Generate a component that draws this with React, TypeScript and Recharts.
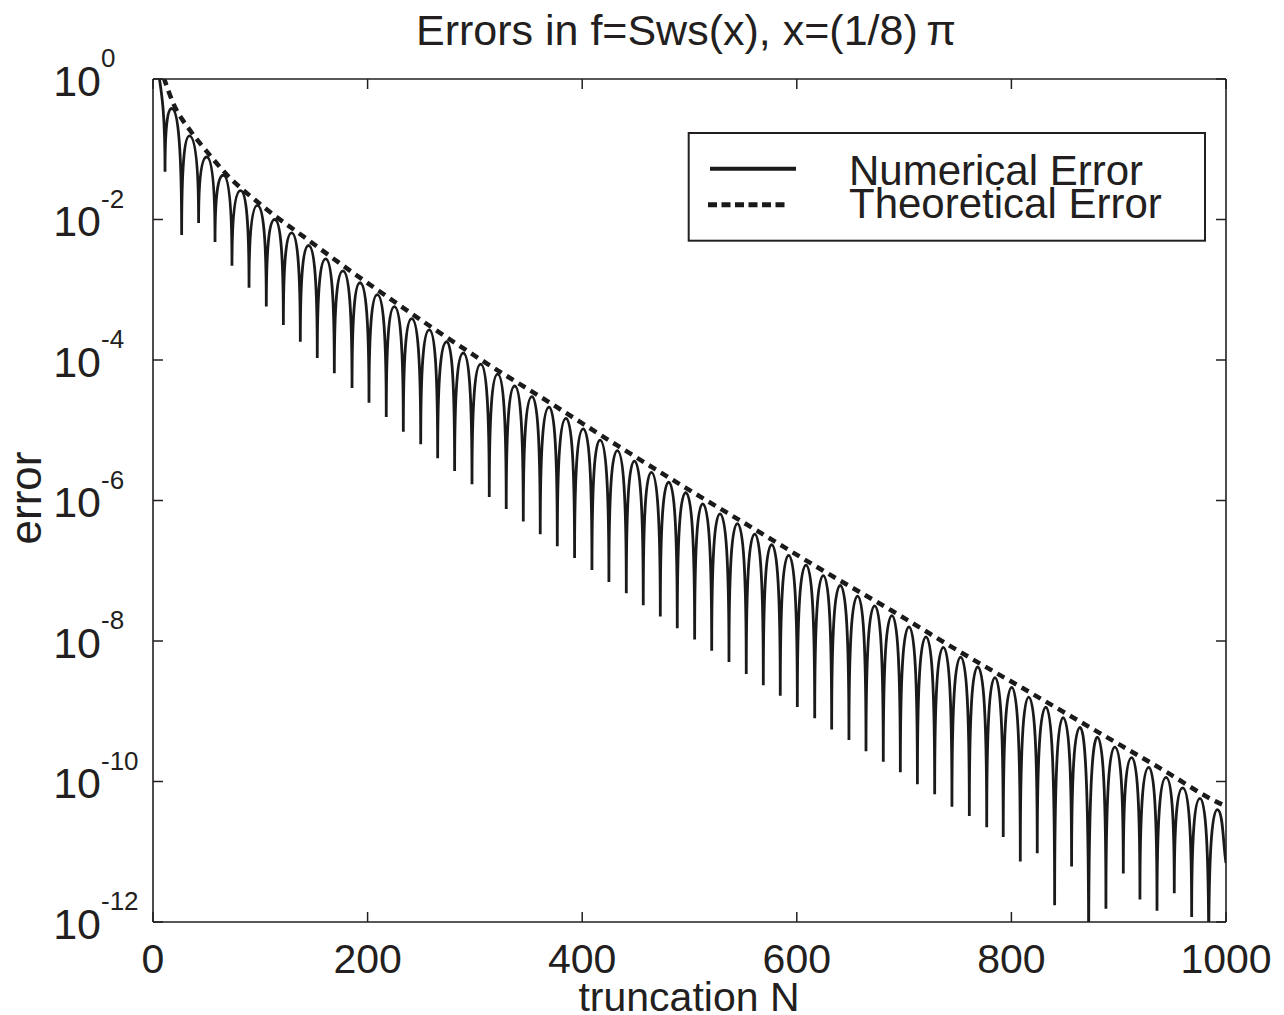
import React from 'react';
import { LineChart, Line, XAxis, YAxis, Legend } from 'recharts';

// ---- data (values as log10 exponents) ----
const dipN = [11.2, 26.7, 42.5, 57.8, 73.6, 89.5, 105.6, 121.5, 137.3, 153.1, 169.0, 185.5, 201.3, 217.4,
  233.3, 249.5, 265.3, 281.1, 297.3, 313.4, 329.2, 345.1, 360.9, 376.8, 392.9, 409.1, 424.9, 441.1, 456.9, 472.8, 488.6, 504.8,
  520.7, 536.8, 552.9, 568.8, 584.6, 600.5, 616.7, 632.5, 648.6, 664.5, 680.6, 696.5, 712.4, 728.5, 744.6,
  760.8, 777.0, 792.4, 808.3, 824.1, 840.3, 856.1, 872.0, 888.1, 904.3, 919.8, 935.7, 951.8, 968.0, 983.9];
const dipExp = [-1.32, -2.22, -2.05, -2.32, -2.66, -2.97, -3.24, -3.50, -3.74, -3.97, -4.19, -4.40, -4.61, -4.81,
  -5.02, -5.20, -5.40, -5.58, -5.77, -5.95, -6.12, -6.30, -6.48, -6.65, -6.82, -6.99, -7.16, -7.32, -7.49, -7.65, -7.82, -7.98,
  -8.14, -8.30, -8.47, -8.63, -8.78, -8.94, -9.10, -9.26, -9.41, -9.57, -9.72, -9.87, -10.04, -10.18, -10.36,
  -10.49, -10.65, -10.79, -11.14, -11.02, -11.76, -11.21, -12.5, -11.81, -11.31, -11.68, -11.84, -11.59, -11.93, -12.5];
const peakN = [17.4, 33.9, 50.0, 65.5, 81.6, 97.2, 113.4, 129.2, 145.0, 160.9, 177.0, 192.9, 209.0, 224.9, 241.1,
  257.5, 273.7, 289.2, 305.4, 321.2, 337.1, 353.2, 369.1, 384.9, 401.0, 416.6, 432.7, 448.6, 464.4, 480.6, 496.5,
  512.3, 528.4, 544.6, 560.8, 576.6, 592.4, 608.6, 624.7, 640.5, 656.7, 672.6, 688.7, 704.6, 720.4, 736.6,
  752.7, 768.6, 784.7, 800.3, 816.1, 832.2, 848.1, 864.0, 880.1, 896.3, 912.1, 928.0, 944.1, 959.6, 975.8, 991.9];
const peakExp = [-0.42, -0.81, -1.11, -1.37, -1.59, -1.80, -2.00, -2.19, -2.37, -2.56, -2.73, -2.90, -3.07, -3.24, -3.41,
  -3.57, -3.74, -3.90, -4.06, -4.20, -4.37, -4.52, -4.67, -4.83, -4.98, -5.14, -5.29, -5.44, -5.60, -5.74, -5.89,
  -6.05, -6.19, -6.33, -6.48, -6.63, -6.78, -6.92, -7.07, -7.21, -7.36, -7.50, -7.64, -7.80, -7.94, -8.09,
  -8.23, -8.37, -8.52, -8.66, -8.80, -8.94, -9.09, -9.23, -9.37, -9.51, -9.66, -9.80, -9.94, -10.09, -10.24, -10.40];
const numStart = { n: 2, e: 0.5 };
const numEnd = { n: 1000, e: -11.16 };

const theoN = [10, 19, 34.5, 50, 68.7, 99.7, 146.3, 177.4, 209, 241, 305, 369, 433, 496.5, 560.8, 624.7, 688.7, 752.7, 816, 880, 944, 991.3, 1000];
const theoExp = [0.02, -0.35, -0.73, -1.03, -1.36, -1.78, -2.31, -2.66, -3.0, -3.34, -3.99, -4.6, -5.22, -5.82, -6.41, -7.0, -7.57, -8.16, -8.72, -9.29, -9.86, -10.29, -10.35];

const xTicks = [0, 200, 400, 600, 800, 1000];
const yTickExps = [0, -2, -4, -6, -8, -10, -12];

const seriesNames = ['Numerical Error', 'Theoretical Error'];
const title = 'Errors in f=Sws(x), x=(1/8)\u2009\u03c0';
const xLabel = 'truncation N';
const yLabel = 'error';

// ---- tables built from the arrays ----
const numericalData: { n: number; v: number }[] = [{ n: numStart.n, v: Math.pow(10, numStart.e) }];
dipN.forEach((n, i) => {
  numericalData.push({ n, v: Math.pow(10, dipExp[i]) });
  numericalData.push({ n: peakN[i], v: Math.pow(10, peakExp[i]) });
});
numericalData.push({ n: numEnd.n, v: Math.pow(10, numEnd.e) });

const theoData = theoN.map((n, i) => ({ n, v: Math.pow(10, theoExp[i]) }));
const yTicks = yTickExps.map((e) => Math.pow(10, e));

const INK = '#231f20';
const FONT = '"Liberation Sans", Arial, Helvetica, sans-serif';

// curve: vertical tangent at local minima (cusps), horizontal at local maxima
function archCurve(context: any) {
  let pts: number[][] = [];
  return {
    areaStart() {},
    areaEnd() {},
    lineStart() { pts = []; },
    point(x: number, y: number) { pts.push([+x, +y]); },
    lineEnd() {
      const n = pts.length;
      if (!n) return;
      const kind = pts.map((p, i) => {
        if (i === 0 || i === n - 1) return 0;
        const yp = pts[i - 1][1];
        const yn = pts[i + 1][1];
        if (p[1] > yp && p[1] > yn) return -1;
        if (p[1] < yp && p[1] < yn) return 1;
        return 0;
      });
      context.moveTo(pts[0][0], pts[0][1]);
      const k = 2 / 3;
      for (let i = 1; i < n; i++) {
        const [x0, y0] = pts[i - 1];
        const [x1, y1] = pts[i];
        let c1x, c1y, c2x, c2y;
        const a = kind[i - 1];
        const b = kind[i];
        if (a === -1) { c1x = x0; c1y = y0 + k * (y1 - y0); }
        else if (a === 1) { c1x = x0 + k * (x1 - x0); c1y = y0; }
        else { c1x = x0 + (x1 - x0) / 3; c1y = y0 + (y1 - y0) / 3; }
        if (b === -1) { c2x = x1; c2y = y1 + k * (y0 - y1); }
        else if (b === 1) { c2x = x1 + k * (x0 - x1); c2y = y1; }
        else { c2x = x1 + (x0 - x1) / 3; c2y = y1 + (y0 - y1) / 3; }
        context.bezierCurveTo(c1x, c1y, c2x, c2y, x1, y1);
      }
    },
  };
}

const XTick = (props: any) => {
  const { x, payload } = props;
  return (
    <text x={x} y={972.5} textAnchor="middle" fontSize={41} fontFamily={FONT} fill={INK}>
      {payload.value}
    </text>
  );
};

const YTick = (props: any) => {
  const { y, payload } = props;
  const e = Math.round(Math.log10(payload.value));
  return (
    <g>
      <text x={101} y={y + 16.7} textAnchor="end" fontSize={43} fontFamily={FONT} fill={INK}>10</text>
      <text x={101} y={y - 11.7} textAnchor="start" fontSize={26} fontFamily={FONT} fill={INK}>{String(e)}</text>
    </g>
  );
};

const NoTick = () => <g />;

const LegendBox = () => (
  <svg width={520} height={112} style={{ display: 'block' }}>
    <rect x={1.7} y={2} width={516.3} height={107.7} fill="#fff" stroke={INK} strokeWidth={2} />
    <line x1={23} y1={37.7} x2={109} y2={37.7} stroke="#1a1a1a" strokeWidth={4} />
    <line x1={21} y1={73.7} x2={101} y2={73.7} stroke="#1a1a1a" strokeWidth={5} strokeDasharray="9 4.5" />
    <text x={162} y={54.3} fontSize={42} fontFamily={FONT} fill={INK}>{seriesNames[0]}</text>
    <text x={162} y={87} fontSize={42} fontFamily={FONT} fill={INK}>{seriesNames[1]}</text>
  </svg>
);

export default function App() {
  return (
    <div style={{ position: 'absolute', left: 0, top: 0, width: 1284, height: 1015, background: '#fff' }}>
      <LineChart width={1284} height={1015} margin={{ top: 78, right: 57, bottom: 92, left: 152 }}>
        <XAxis xAxisId="b" dataKey="n" type="number" domain={[0, 1000]} ticks={xTicks} allowDataOverflow
          height={1} interval={0} tickSize={-10} tick={XTick} axisLine={{ stroke: INK, strokeWidth: 1.6 }}
          tickLine={{ stroke: INK, strokeWidth: 1.5 }} />
        <XAxis xAxisId="t" orientation="top" dataKey="n" type="number" domain={[0, 1000]} ticks={xTicks} allowDataOverflow
          height={1} interval={0} tickSize={-10} tick={NoTick} axisLine={{ stroke: INK, strokeWidth: 1.6 }}
          tickLine={{ stroke: INK, strokeWidth: 1.5 }} />
        <YAxis yAxisId="l" type="number" scale="log" domain={[1e-12, 1]} ticks={yTicks} allowDataOverflow
          width={1} interval={0} tickSize={-10} tick={YTick} axisLine={{ stroke: INK, strokeWidth: 1.6 }}
          tickLine={{ stroke: INK, strokeWidth: 1.5 }} />
        <YAxis yAxisId="r" orientation="right" type="number" scale="log" domain={[1e-12, 1]} ticks={yTicks} allowDataOverflow
          width={1} interval={0} tickSize={-10} tick={NoTick} axisLine={{ stroke: INK, strokeWidth: 1.6 }}
          tickLine={{ stroke: INK, strokeWidth: 1.5 }} />
        <Line xAxisId="b" yAxisId="l" data={numericalData} dataKey="v" name={seriesNames[0]} type={archCurve as any}
          dot={false} stroke="#1a1a1a" strokeWidth={2.8} isAnimationActive={false} />
        <Line xAxisId="b" yAxisId="l" data={theoData} dataKey="v" name={seriesNames[1]} type="monotone"
          dot={false} stroke="#1a1a1a" strokeWidth={4.5} strokeDasharray="8 6" isAnimationActive={false} />
        <Legend layout="horizontal" verticalAlign="middle" align="center" content={LegendBox}
          wrapperStyle={{ position: 'absolute', left: 687, top: 131, width: 520, height: 112 }} />
        <text x={686} y={45} textAnchor="middle" fontSize={43} fontFamily={FONT} fill={INK}>{title}</text>
        <text x={689} y={1011} textAnchor="middle" fontSize={41} fontFamily={FONT} fill={INK}>{xLabel}</text>
        <text transform="translate(41,498) rotate(-90)" textAnchor="middle" fontSize={44} fontFamily={FONT} fill={INK}>{yLabel}</text>
      </LineChart>
    </div>
  );
}
